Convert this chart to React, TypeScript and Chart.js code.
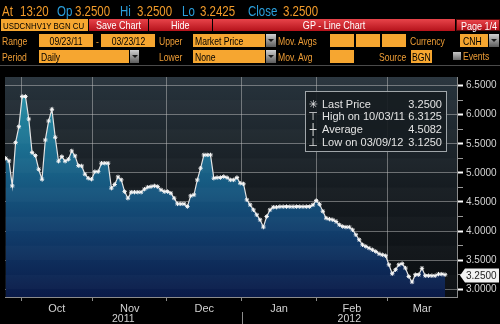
import React, { useEffect, useRef } from 'react';
import { Chart, registerables } from 'chart.js';
Chart.register(...registerables);

// ---- data (daily closes, USDCNH 1Y) ----
const prices: number[] = [
  5.25, 5.205, 4.776, 5.519, 5.793, 6.3125, 6.3125, 5.925, 5.348, 5.296,
  5.062, 4.891, 5.565, 5.891, 6.092, 5.611, 5.2, 5.279, 5.2, 5.234,
  5.376, 5.291, 5.124, 5.119, 4.977, 4.908, 4.891, 5.021, 5.021, 5.166,
  5.166, 5.166, 4.737, 4.8, 4.93, 4.879, 4.678, 4.565, 4.668, 4.668,
  4.668, 4.668, 4.72, 4.754, 4.764, 4.776, 4.764, 4.708, 4.678, 4.678,
  4.651, 4.565, 4.467, 4.467, 4.467, 4.421, 4.605, 4.622, 4.879, 5.08,
  5.308, 5.308, 5.308, 4.908, 4.919, 4.919, 4.936, 4.919, 4.879, 4.879,
  4.919, 4.822, 4.81, 4.536, 4.45, 4.364, 4.279, 4.193, 4.068, 4.25,
  4.364, 4.41, 4.41, 4.42, 4.42, 4.42, 4.42, 4.42, 4.42, 4.42,
  4.42, 4.42, 4.42, 4.45, 4.524, 4.46, 4.34, 4.222, 4.205, 4.193,
  4.164, 4.107, 4.078, 4.068, 4.068, 4.021, 3.936, 3.85, 3.764, 3.736,
  3.707, 3.678, 3.649, 3.61, 3.592, 3.576, 3.421, 3.267, 3.336, 3.421,
  3.44, 3.364, 3.22, 3.125, 3.25, 3.25, 3.36, 3.233, 3.233, 3.233,
  3.233, 3.26, 3.26, 3.25,
];
const monthLabels = ['Oct', 'Nov', 'Dec', 'Jan', 'Feb', 'Mar'];
const monthStarts = [4.7, 26.3, 48.8, 71.4, 94.1, 115.5];
const yearLabels = ['2011', '2012'];
const yearStarts = [-0.2, 71.4];
const X_MIN = -0.2;
const X_MAX = 136.6;
const Y_MIN = 2.867;
const Y_MAX = 6.647;
const yTickValues = [3, 3.25, 3.5, 3.75, 4, 4.25, 4.5, 4.75, 5, 5.25, 5.5, 5.75, 6, 6.25, 6.5];

const quoteLabels = ['At', 'Op', 'Hi', 'Lo', 'Close'];
const quoteValues = ['13:20', '3.2500', '3.2500', '3.2425', '3.2500'];
const legendIcons = ['\u2733', '\u22A4', '\u253C', '\u22A5'];
const legendNames = ['Last Price', 'High on 10/03/11', 'Average', 'Low on 03/09/12'];
const legendValues = ['3.2500', '6.3125', '4.5082', '3.1250'];

// ---- styles ----
const FONT = "'Liberation Sans', Arial, sans-serif";
const AXIS_FONT = "'Liberation Sans', Arial, sans-serif";
const ORANGE = '#f29b2a';
const LABEL = '#ee9d36';
const BLUE = '#2b9fdc';
const BOXBG = '#f6a630';
const NARROW = 0.82;

const centersOf = (starts: number[], end: number) =>
  starts.map((s, i) => (s + (i + 1 < starts.length ? starts[i + 1] : end)) / 2);
const monthCenters = centersOf(monthStarts, X_MAX);
const yearCenters = centersOf(yearStarts, X_MAX);
const isMajor = (v: number) => Math.abs(v * 2 - Math.round(v * 2)) < 1e-6;

const quoteLabelX = [2, 57, 120, 182, 248];
const quoteValueX = [20, 75, 137, 200, 283];

function Nar(p: any) {
  return (
    <span
      style={{
        display: 'inline-block', transform: `scaleX(${NARROW})`,
        transformOrigin: p.center ? 'center center' : 'left center', whiteSpace: 'nowrap',
      }}
    >
      {p.children}
    </span>
  );
}

function Txt(p: any) {
  return (
    <div
      style={{
        position: 'absolute', left: p.x, top: p.y, height: p.h, lineHeight: p.h + 'px',
        color: p.color || LABEL, fontSize: p.size || 10.5, whiteSpace: 'nowrap', fontFamily: FONT,
      }}
    >
      <Nar>{p.children}</Nar>
    </div>
  );
}

function Box(p: any) {
  return (
    <div
      style={{
        position: 'absolute', left: p.x, top: p.y, width: p.w, height: p.h, background: BOXBG,
        color: '#000', fontSize: p.size || 10.5, lineHeight: p.h + 1 + 'px', whiteSpace: 'nowrap', overflow: 'hidden',
        textAlign: p.center ? 'center' : 'left', paddingLeft: p.center ? 0 : p.pad ?? 2,
        boxSizing: 'border-box', fontFamily: FONT,
      }}
    >
      {p.children ? <Nar center={p.center}>{p.children}</Nar> : null}
    </div>
  );
}

function Drop(p: any) {
  return (
    <div
      style={{
        position: 'absolute', left: p.x, top: p.y, width: p.w, height: p.h,
        background: 'linear-gradient(#d0d0d0, #5c5c5c)', boxSizing: 'border-box',
        display: 'flex', alignItems: 'center', justifyContent: 'center',
      }}
    >
      <div style={{ width: 0, height: 0, borderLeft: '3px solid transparent', borderRight: '3px solid transparent', borderTop: '3px solid #1a1a1a' }} />
    </div>
  );
}

function RedBtn(p: any) {
  return (
    <div
      style={{
        position: 'absolute', left: p.x, top: 19, width: p.w, height: 12,
        background: 'linear-gradient(#e8444a, #b5121b)', color: '#fff', fontSize: 11,
        lineHeight: '12px', textAlign: 'center', whiteSpace: 'nowrap', fontFamily: FONT,
        boxSizing: 'border-box', border: p.border ? '1px solid #5a0a0a' : 'none',
      }}
    >
      <Nar center>{p.children}</Nar>
    </div>
  );
}

export default function App() {
  const ref = useRef<HTMLCanvasElement>(null);

  useEffect(() => {
    const canvas = ref.current as HTMLCanvasElement;

    const decor = {
      id: 'decor',
      beforeDraw(chart: any) {
        const { ctx, chartArea: a } = chart;
        ctx.save();
        ctx.fillStyle = '#000';
        ctx.fillRect(0, 0, chart.width, chart.height);
        const g = ctx.createLinearGradient(0, a.top, 0, a.bottom);
        g.addColorStop(0, '#27333c');
        g.addColorStop(0.5, '#161c21');
        g.addColorStop(1, '#0a0d10');
        ctx.fillStyle = g;
        ctx.fillRect(a.left, a.top, a.right - a.left, a.bottom - a.top);
        ctx.restore();
      },
      afterDatasetsDraw(chart: any) {
        const { ctx, chartArea: a } = chart;
        const ys = chart.scales.y;
        ctx.save();
        ctx.beginPath();
        ctx.rect(a.left, a.top, a.right - a.left, a.bottom - a.top);
        ctx.clip();
        for (let k = 10; k < 28; k++) {
          if (k % 2 !== 0) continue;
          const y1 = ys.getPixelForValue((k + 1) * 0.25);
          const y2 = ys.getPixelForValue(k * 0.25);
          ctx.fillStyle = 'rgba(255,255,255,0.025)';
          ctx.fillRect(a.left, y1, a.right - a.left, y2 - y1);
        }
        ctx.restore();
      },
      afterDraw(chart: any) {
        const { ctx, chartArea: a } = chart;
        const ys = chart.scales.y;
        const last = prices[prices.length - 1];
        const y = Math.round(ys.getPixelForValue(last)) + 0.5;
        const x0 = a.right + 3;
        ctx.save();
        ctx.fillStyle = '#f2f2f2';
        ctx.beginPath();
        ctx.moveTo(x0, y);
        ctx.lineTo(x0 + 5, y - 7);
        ctx.lineTo(499, y - 7);
        ctx.lineTo(499, y + 7);
        ctx.lineTo(x0 + 5, y + 7);
        ctx.closePath();
        ctx.fill();
        ctx.fillStyle = '#222';
        ctx.font = "10px 'Liberation Sans', Arial, sans-serif";
        ctx.textBaseline = 'middle';
        ctx.fillText(last.toFixed(4), a.right + 9, y + 0.5);
        // year separator
        const xs = chart.scales.x;
        const xp = Math.round(xs.getPixelForValue(yearStarts[1])) + 0.5;
        ctx.strokeStyle = '#8c8c8c';
        ctx.lineWidth = 1;
        ctx.beginPath();
        ctx.moveTo(xp, chart.scales.xy.top - 1);
        ctx.lineTo(xp, chart.height);
        ctx.stroke();
        ctx.restore();
      },
    };

    const chart = new Chart(canvas, {
      type: 'line',
      data: {
        datasets: [
          {
            data: prices.map((p, i) => ({ x: i, y: p })),
            borderColor: '#e4e4e4',
            borderWidth: 1.2,
            pointStyle: 'star',
            pointRadius: 2.2,
            pointBorderColor: '#f6f6f6',
            pointBorderWidth: 1,
            pointBackgroundColor: '#ffffff',
            tension: 0,
            fill: 'start',
            backgroundColor: (c: any) => {
              const a = c.chart.chartArea;
              if (!a) return 'rgba(0,0,0,0)';
              const g = c.chart.ctx.createLinearGradient(0, a.top, 0, a.bottom);
              g.addColorStop(0, '#2a98aa');
              g.addColorStop(0.35, '#1a6b8e');
              g.addColorStop(0.7, '#113e6c');
              g.addColorStop(1, '#0a1a48');
              return g;
            },
            xAxisID: 'x',
            yAxisID: 'y',
          },
        ],
      },
      options: {
        animation: false,
        responsive: false,
        maintainAspectRatio: false,
        layout: { padding: { top: 77, left: 2, right: 0, bottom: 0 } },
        plugins: { legend: { display: false }, tooltip: { enabled: false } },
        scales: {
          x: {
            type: 'linear', position: 'bottom', min: X_MIN, max: X_MAX, weight: 0, z: 1,
            afterBuildTicks: (s: any) => { s.ticks = monthStarts.map((v) => ({ value: v })); },
            ticks: { display: false, autoSkip: false },
            grid: {
              color: 'rgba(190,190,190,0.5)', borderDash: [1, 2], drawTicks: true,
              tickLength: 4, tickColor: '#8c8c8c', tickBorderDash: [],
            },
            border: { display: true, color: '#8c8c8c' },
            afterFit: (s: any) => { s.height = 5; },
          },
          xm: {
            type: 'linear', position: 'bottom', min: X_MIN, max: X_MAX, weight: 1,
            afterBuildTicks: (s: any) => { s.ticks = monthCenters.map((v) => ({ value: v })); },
            ticks: {
              autoSkip: false, maxRotation: 0, padding: 0, color: '#d2d2d2',
              font: { family: AXIS_FONT, size: 11 },
              callback: (v: any) => monthLabels[monthCenters.indexOf(v)] ?? '',
            },
            grid: { display: false, drawTicks: false },
            border: { display: false },
            afterFit: (s: any) => { s.height = 11; },
          },
          xy: {
            type: 'linear', position: 'bottom', min: X_MIN, max: X_MAX, weight: 2,
            afterBuildTicks: (s: any) => { s.ticks = yearCenters.map((v) => ({ value: v })); },
            ticks: {
              autoSkip: false, maxRotation: 0, padding: 0, color: '#d2d2d2',
              font: { family: AXIS_FONT, size: 10.5 },
              callback: (v: any) => yearLabels[yearCenters.indexOf(v)] ?? '',
            },
            grid: { display: false, drawTicks: false },
            border: { display: false },
            afterFit: (s: any) => { s.height = 11; },
          },
          y: {
            type: 'linear', position: 'right', min: Y_MIN, max: Y_MAX, z: 1,
            afterBuildTicks: (s: any) => { s.ticks = yTickValues.map((v) => ({ value: v })); },
            ticks: {
              autoSkip: false, padding: 3, color: '#d4d4d4',
              font: { family: AXIS_FONT, size: 10 },
              callback: (v: any) => (isMajor(v) ? Number(v).toFixed(4) : ''),
            },
            grid: {
              color: (c: any) => (c.tick && isMajor(c.tick.value) ? 'rgba(190,190,190,0.5)' : 'rgba(0,0,0,0)'),
              borderDash: [1, 2],
              tickLength: 6,
              tickBorderDash: [],
              tickColor: (c: any) => (c.tick && isMajor(c.tick.value) ? '#ffffff' : '#9a9a9a'),
              tickWidth: (c: any) => (c.tick && isMajor(c.tick.value) ? 2 : 1),
            },
            border: { display: true, color: '#8c8c8c' },
            afterFit: (s: any) => { s.width = 43; },
          },
        },
      } as any,
      plugins: [decor],
    } as any);

    return () => chart.destroy();
  }, []);

  return (
    <div
      style={{
        position: 'absolute', left: 0, top: 0, width: 500, height: 324, background: '#000',
        overflow: 'hidden', fontFamily: FONT,
      }}
    >
      <canvas ref={ref} width={500} height={324} style={{ position: 'absolute', left: 0, top: 0, width: 500, height: 324 }} />

      {/* quote line */}
      {quoteLabels.map((l, i) => (
        <Txt key={'ql' + i} x={quoteLabelX[i]} y={2} h={18} size={14} color={i === 0 ? ORANGE : BLUE}>{l}</Txt>
      ))}
      {quoteValues.map((v, i) => (
        <Txt key={'qv' + i} x={quoteValueX[i]} y={2} h={18} size={14} color={ORANGE}>{v}</Txt>
      ))}

      {/* row 2 */}
      <Box x={1} y={19} w={87} h={12} pad={2} size={9.6}>USDCNHV1Y BGN CU</Box>
      <RedBtn x={89} w={59}>Save Chart</RedBtn>
      <RedBtn x={149} w={63}>Hide</RedBtn>
      <RedBtn x={213} w={242}>GP - Line Chart</RedBtn>
      <RedBtn x={456} w={44} border>Page 1/4</RedBtn>

      {/* row 3 */}
      <Txt x={2} y={35} h={13}>Range</Txt>
      <Box x={39} y={34} w={54} h={13} center>09/23/11</Box>
      <Txt x={96} y={35} h={13}>-</Txt>
      <Box x={101} y={34} w={54} h={13} center>03/23/12</Box>
      <Txt x={159} y={35} h={13}>Upper</Txt>
      <Box x={193} y={34} w={72} h={13}>Market Price</Box>
      <Drop x={266} y={34} w={10} h={13} />
      <Txt x={278} y={35} h={13}>Mov. Avgs</Txt>
      <Box x={330} y={34} w={24} h={13} />
      <Box x={356} y={34} w={24} h={13} />
      <Box x={382} y={34} w={24} h={13} />
      <Txt x={410} y={35} h={13}>Currency</Txt>
      <Box x={460} y={34} w={28} h={13} pad={3}>CNH</Box>
      <Drop x={489} y={34} w={10} h={13} />

      {/* row 4 */}
      <Txt x={2} y={51} h={13}>Period</Txt>
      <Box x={39} y={50} w={90} h={13}>Daily</Box>
      <Drop x={130} y={50} w={9} h={13} />
      <Txt x={159} y={51} h={13}>Lower</Txt>
      <Box x={193} y={50} w={72} h={13}>None</Box>
      <Drop x={266} y={50} w={10} h={13} />
      <Txt x={278} y={51} h={13}>Mov. Avg</Txt>
      <Box x={330} y={50} w={24} h={13} />
      <Txt x={379} y={51} h={13}>Source</Txt>
      <Box x={411} y={50} w={21} h={13} pad={1}>BGN</Box>
      <div style={{ position: 'absolute', left: 453, top: 52, width: 8, height: 8, background: 'linear-gradient(#c8c8c8, #6a6a6a)' }} />
      <Txt x={463} y={50} h={13}>Events</Txt>

      <div style={{ position: 'absolute', left: 0, top: 65, width: 500, height: 1, background: '#4a4a4a' }} />

      {/* legend box */}
      <div
        style={{
          position: 'absolute', left: 305, top: 91, width: 142, height: 61,
          border: '1px solid #a0a6aa', background: 'rgba(22,28,33,0.92)', boxSizing: 'border-box',
        }}
      >
        {legendNames.map((n, i) => (
          <div
            key={i}
            style={{
              position: 'absolute', left: 0, top: 5.5 + i * 12.7, width: '100%', height: 13,
              lineHeight: '13px', fontSize: 11, color: '#e4e4e4', fontFamily: AXIS_FONT, whiteSpace: 'nowrap',
            }}
          >
            <span style={{ position: 'absolute', left: 1, width: 12, textAlign: 'center', fontFamily: "'DejaVu Sans', sans-serif", fontSize: 11 }}>{legendIcons[i]}</span>
            <span style={{ position: 'absolute', left: 16 }}>{n}</span>
            <span style={{ position: 'absolute', right: 4 }}>{legendValues[i]}</span>
          </div>
        ))}
      </div>
    </div>
  );
}
